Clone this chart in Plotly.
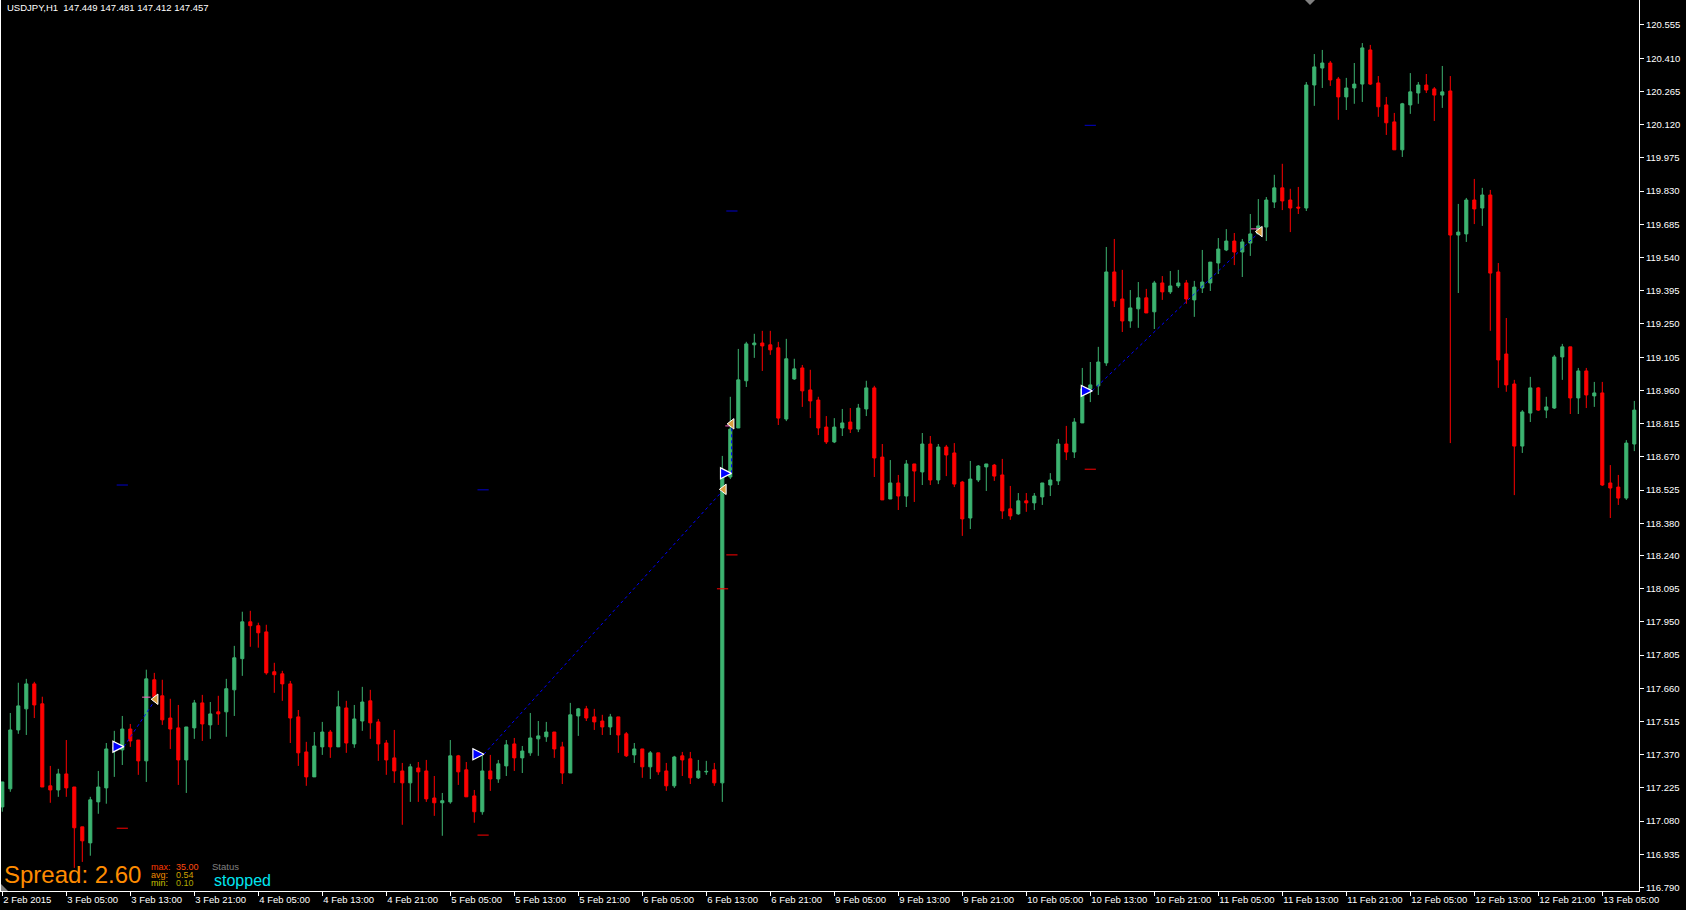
import plotly.graph_objects as go

# ---------------- data ----------------
bar_index = list(range(205))  # hourly bars, first bar = 2 Feb 2015 21:00

opens = [117.142,117.221,117.478,117.570,117.679,117.592,117.234,117.216,117.286,117.229,
117.055,116.985,117.164,117.225,117.398,117.391,117.482,117.434,117.343,117.697,
117.627,117.530,117.487,117.347,117.487,117.596,117.500,117.557,117.557,117.653,
117.789,117.950,117.933,117.906,117.732,117.723,117.679,117.535,117.382,117.273,
117.404,117.469,117.404,117.574,117.417,117.517,117.605,117.513,117.421,117.356,
117.299,117.247,117.312,117.299,117.181,117.160,117.164,117.365,117.304,117.190,
117.121,117.299,117.264,117.321,117.417,117.356,117.378,117.439,117.448,117.469,
117.404,117.290,117.539,117.570,117.535,117.517,117.491,117.535,117.461,117.369,
117.395,117.317,117.378,117.299,117.234,117.365,117.352,117.269,117.295,117.304,
117.247,118.582,118.796,119.002,119.159,119.167,119.159,119.146,118.835,119.010,
119.058,118.962,118.918,118.800,118.735,118.796,118.822,118.791,118.879,118.971,
118.669,118.486,118.556,118.499,118.639,118.604,118.726,118.569,118.713,118.687,
118.560,118.403,118.569,118.626,118.634,118.591,118.443,118.421,118.478,118.469,
118.495,118.547,118.565,118.726,118.691,118.818,118.967,118.980,119.080,119.477,
119.359,119.263,119.316,119.364,119.303,119.429,119.390,119.416,119.429,119.355,
119.407,119.429,119.516,119.573,119.612,119.564,119.603,119.643,119.673,119.782,
119.844,119.791,119.760,119.756,120.293,120.367,120.389,120.319,120.241,120.280,
120.297,120.446,120.302,120.206,120.132,120.010,120.206,120.258,120.293,120.276,
120.249,120.267,119.638,119.643,119.791,119.756,119.813,119.477,119.119,118.988,
118.717,118.861,118.971,118.874,118.883,119.106,119.150,118.927,119.045,118.936,
118.949,118.556,118.538,118.490,118.726]

highs = [117.251,117.552,117.684,117.701,117.688,117.623,117.321,117.308,117.434,117.229,
117.055,117.186,117.299,117.421,117.474,117.539,117.504,117.434,117.741,117.727,
117.697,117.614,117.587,117.491,117.609,117.631,117.600,117.627,117.701,117.845,
117.994,117.998,117.946,117.937,117.771,117.736,117.692,117.565,117.426,117.469,
117.513,117.478,117.649,117.605,117.587,117.666,117.653,117.526,117.434,117.478,
117.334,117.330,117.338,117.347,117.277,117.203,117.434,117.369,117.338,117.216,
117.365,117.369,117.347,117.434,117.443,117.408,117.552,117.517,117.513,117.469,
117.426,117.596,117.574,117.583,117.570,117.544,117.548,117.535,117.469,117.421,
117.395,117.386,117.378,117.334,117.365,117.382,117.382,117.347,117.343,117.334,
118.674,118.932,119.141,119.172,119.207,119.220,119.220,119.172,119.185,119.098,
119.071,119.050,118.932,118.848,118.839,118.879,118.883,118.901,119.002,118.980,
118.726,118.656,118.591,118.656,118.639,118.774,118.761,118.726,118.722,118.730,
118.565,118.652,118.634,118.639,118.639,118.661,118.543,118.512,118.512,118.512,
118.556,118.599,118.748,118.805,118.839,119.058,119.084,119.150,119.586,119.621,
119.486,119.398,119.433,119.403,119.438,119.459,119.481,119.486,119.442,119.438,
119.573,119.520,119.625,119.664,119.647,119.621,119.730,119.795,119.804,119.901,
119.949,119.840,119.848,120.306,120.428,120.446,120.398,120.328,120.324,120.389,
120.476,120.468,120.332,120.241,120.171,120.215,120.345,120.306,120.341,120.284,
120.376,120.332,119.774,119.800,119.883,119.844,119.835,119.516,119.276,119.006,
118.874,119.019,118.975,118.932,119.115,119.163,119.150,119.058,119.058,118.997,
118.997,118.634,118.591,118.743,118.914]

lows = [117.121,117.208,117.461,117.456,117.530,117.229,117.160,117.186,117.186,116.876,
116.902,116.929,117.112,117.156,117.273,117.325,117.404,117.282,117.251,117.605,
117.500,117.395,117.238,117.203,117.439,117.430,117.439,117.500,117.448,117.539,
117.714,117.841,117.837,117.719,117.640,117.605,117.421,117.321,117.234,117.273,
117.369,117.356,117.404,117.378,117.400,117.474,117.439,117.343,117.282,117.247,
117.064,117.164,117.164,117.164,117.103,117.016,117.156,117.238,117.186,117.073,
117.108,117.212,117.247,117.277,117.299,117.290,117.365,117.365,117.426,117.356,
117.242,117.290,117.452,117.517,117.478,117.456,117.456,117.378,117.360,117.334,
117.269,117.264,117.282,117.212,117.225,117.277,117.242,117.264,117.282,117.234,
117.164,118.573,118.796,118.975,119.102,119.045,119.115,118.809,118.826,119.006,
118.888,118.839,118.765,118.726,118.730,118.761,118.774,118.778,118.848,118.582,
118.482,118.486,118.438,118.451,118.473,118.547,118.547,118.551,118.586,118.538,
118.325,118.355,118.560,118.521,118.565,118.399,118.395,118.417,118.430,118.438,
118.460,118.499,118.547,118.656,118.665,118.818,118.909,118.940,119.067,119.324,
119.215,119.233,119.233,119.298,119.228,119.355,119.381,119.407,119.338,119.281,
119.385,119.394,119.468,119.568,119.507,119.455,119.547,119.643,119.612,119.756,
119.747,119.651,119.730,119.743,120.202,120.280,120.289,120.141,120.184,120.211,
120.219,120.293,120.154,120.075,120.010,119.979,120.167,120.211,120.258,120.136,
120.193,118.730,119.385,119.608,119.686,119.678,119.220,118.971,118.954,118.503,
118.687,118.822,118.870,118.839,118.879,119.006,118.857,118.857,118.883,118.888,
118.543,118.403,118.460,118.482,118.695]

closes = [117.251,117.478,117.583,117.679,117.587,117.229,117.216,117.286,117.225,117.051,
116.994,117.173,117.229,117.395,117.400,117.482,117.430,117.343,117.701,117.623,
117.522,117.482,117.347,117.491,117.596,117.504,117.548,117.548,117.658,117.793,
117.950,117.933,117.902,117.727,117.719,117.679,117.530,117.378,117.273,117.408,
117.469,117.404,117.579,117.421,117.526,117.600,117.509,117.417,117.347,117.299,
117.247,117.317,117.295,117.177,117.160,117.169,117.365,117.295,117.186,117.121,
117.299,117.264,117.330,117.413,117.356,117.386,117.443,117.452,117.469,117.395,
117.290,117.544,117.570,117.530,117.513,117.491,117.535,117.456,117.365,117.395,
117.317,117.378,117.295,117.234,117.360,117.347,117.269,117.299,117.297,117.247,
118.586,118.791,119.006,119.163,119.167,119.154,119.137,118.839,119.098,119.054,
118.958,118.914,118.796,118.735,118.800,118.818,118.791,118.883,118.971,118.665,
118.482,118.556,118.499,118.639,118.608,118.726,118.569,118.713,118.678,118.551,
118.399,118.573,118.630,118.639,118.586,118.434,118.412,118.478,118.469,118.499,
118.556,118.569,118.726,118.691,118.822,118.967,118.984,119.084,119.477,119.351,
119.263,119.320,119.364,119.298,119.429,119.390,119.416,119.429,119.359,119.411,
119.433,119.520,119.577,119.612,119.564,119.608,119.643,119.678,119.791,119.844,
119.787,119.756,119.756,120.293,120.372,120.389,120.315,120.241,120.280,120.297,
120.455,120.297,120.198,120.128,120.010,120.211,120.263,120.293,120.271,120.249,
120.263,119.638,119.651,119.791,119.752,119.813,119.472,119.093,118.984,118.717,
118.866,118.971,118.874,118.888,119.106,119.150,118.927,119.045,118.940,118.949,
118.547,118.534,118.490,118.730,118.874]

# time-axis labels (one every 8 bars)
x_tick_bars = list(range(0, 201, 8))
x_tick_labels = ["2 Feb 2015", "3 Feb 05:00", "3 Feb 13:00", "3 Feb 21:00", "4 Feb 05:00",
                 "4 Feb 13:00", "4 Feb 21:00", "5 Feb 05:00", "5 Feb 13:00", "5 Feb 21:00",
                 "6 Feb 05:00", "6 Feb 13:00", "6 Feb 21:00", "9 Feb 05:00", "9 Feb 13:00",
                 "9 Feb 21:00", "10 Feb 05:00", "10 Feb 13:00", "10 Feb 21:00", "11 Feb 05:00",
                 "11 Feb 13:00", "11 Feb 21:00", "12 Feb 05:00", "12 Feb 13:00", "12 Feb 21:00",
                 "13 Feb 05:00"]

# price-axis labels
y_tick_labels = ["120.555", "120.410", "120.265", "120.120", "119.975", "119.830", "119.685",
                 "119.540", "119.395", "119.250", "119.105", "118.960", "118.815", "118.670",
                 "118.525", "118.380", "118.240", "118.095", "117.950", "117.805", "117.660",
                 "117.515", "117.370", "117.225", "117.080", "116.935", "116.790"]
y_tick_vals = [float(v) for v in y_tick_labels]

# trades: open (buy arrow, tip position) and close (triangle)
trade_open_bar = [15.2, 60.2, 91.15, 136.25]
trade_open_price = [117.405, 117.372, 118.598, 118.958]
trade_close_bar = [19.17, 90.2, 91.17, 157.2]
trade_close_price = [117.612, 118.528, 118.814, 119.653]
close_mark_bar = [18.0, 90.9, 156.6]
close_mark_price = [117.621, 118.805, 119.665]
# stop-loss / take-profit levels
level_bar = [15.0, 60.1, 91.2, 136.0]
sl_price = [117.049, 117.019, 118.242, 118.616]
tp_price = [118.547, 118.526, 119.743, 120.117]
extra_sl_bar = [90.03]
extra_sl_price = [118.094]

header_text = "USDJPY,H1\u00a0 147.449 147.481 147.412 147.457"

# ---------------- layout geometry ----------------
FIG_W, FIG_H = 1686, 910
M_L, M_R, M_T, M_B = 1, 47, 0, 19
PW = FIG_W - M_L - M_R
PH = FIG_H - M_T - M_B


def px_x(px):
    return (px - M_L) / PW


def px_y(py):
    return 1 - (py - M_T) / PH


GREEN = "#3CB371"
RED = "#FF0000"
FONT = "Liberation Sans"

fig = go.Figure()

fig.add_trace(go.Candlestick(
    x=bar_index, open=opens, high=highs, low=lows, close=closes,
    increasing=dict(line=dict(color=GREEN, width=1), fillcolor=GREEN),
    decreasing=dict(line=dict(color=RED, width=1), fillcolor=RED),
    whiskerwidth=0, showlegend=False, hoverinfo="skip"))

# trade connection lines (blue dotted)
lx, ly = [], []
for ox, op, cx, cp in zip(trade_open_bar, trade_open_price, trade_close_bar, trade_close_price):
    lx += [ox, cx, None]
    ly += [op, cp, None]
fig.add_trace(go.Scatter(x=lx, y=ly, mode="lines",
                         line=dict(color="#0000FF", width=1, dash="dot"),
                         showlegend=False, hoverinfo="skip"))

# SL / TP dashes
fig.add_trace(go.Scatter(x=level_bar + extra_sl_bar, y=sl_price + extra_sl_price, mode="markers",
                         marker=dict(symbol="line-ew", size=8, line=dict(color="#FF0000", width=1)),
                         showlegend=False, hoverinfo="skip"))
fig.add_trace(go.Scatter(x=level_bar, y=tp_price, mode="markers",
                         marker=dict(symbol="line-ew", size=8, line=dict(color="#0000CC", width=1)),
                         showlegend=False, hoverinfo="skip"))
fig.add_trace(go.Scatter(x=close_mark_bar, y=close_mark_price, mode="markers",
                         marker=dict(symbol="line-ew", size=6, line=dict(color="#FF60C0", width=1)),
                         showlegend=False, hoverinfo="skip"))

# open arrows and close triangles
fig.add_trace(go.Scatter(x=trade_open_bar, y=trade_open_price, mode="markers",
                         marker=dict(symbol="arrow-right", size=11, color="#0000FF",
                                     line=dict(color="white", width=1.2)),
                         showlegend=False, hoverinfo="skip"))
fig.add_trace(go.Scatter(x=trade_close_bar, y=trade_close_price, mode="markers",
                         marker=dict(symbol="triangle-left", size=9, color="#D9A040",
                                     line=dict(color="white", width=1)),
                         showlegend=False, hoverinfo="skip"))

annotations = [
    dict(text=header_text, x=px_x(6), y=px_y(7.5), xanchor="left", yanchor="middle",
         font=dict(color="white", size=9.5, family=FONT)),
    dict(text="Spread: 2.60", x=px_x(3), y=px_y(874.5), xanchor="left", yanchor="middle",
         font=dict(color="#FF8C00", size=24, family=FONT)),
    dict(text="max:", x=px_x(150), y=px_y(866.5), xanchor="left", yanchor="middle",
         font=dict(color="#FF3A00", size=9, family=FONT)),
    dict(text="35.00", x=px_x(175), y=px_y(866.5), xanchor="left", yanchor="middle",
         font=dict(color="#FF4A10", size=9, family=FONT)),
    dict(text="avg:", x=px_x(150), y=px_y(874.5), xanchor="left", yanchor="middle",
         font=dict(color="#F08C00", size=9, family=FONT)),
    dict(text="0.54", x=px_x(175), y=px_y(874.5), xanchor="left", yanchor="middle",
         font=dict(color="#D0A000", size=9, family=FONT)),
    dict(text="min:", x=px_x(150), y=px_y(882.5), xanchor="left", yanchor="middle",
         font=dict(color="#C8C000", size=9, family=FONT)),
    dict(text="0.10", x=px_x(175), y=px_y(882.5), xanchor="left", yanchor="middle",
         font=dict(color="#B0A800", size=9, family=FONT)),
    dict(text="Status", x=px_x(211), y=px_y(866.5), xanchor="left", yanchor="middle",
         font=dict(color="#808080", size=9.5, family=FONT)),
    dict(text="stopped", x=px_x(213), y=px_y(880.5), xanchor="left", yanchor="middle",
         font=dict(color="#00E5F0", size=16, family=FONT)),
]
for a in annotations:
    a.update(xref="paper", yref="paper", showarrow=False, borderpad=0)

shapes = [
    # chart-shift marker at top
    dict(type="path", xref="paper", yref="paper", fillcolor="#808080", line=dict(width=0),
         path=f"M {px_x(1305)} {px_y(0)} L {px_x(1315)} {px_y(0)} L {px_x(1310)} {px_y(5)} Z"),
    # corner marker bottom-left
    dict(type="path", xref="paper", yref="paper", fillcolor="#808080", line=dict(width=0),
         path=f"M {px_x(1)} {px_y(884)} L {px_x(1)} {px_y(891)} L {px_x(8)} {px_y(891)} Z"),
]

fig.update_layout(
    width=FIG_W, height=FIG_H,
    margin=dict(l=M_L, r=M_R, t=M_T, b=M_B, pad=0, autoexpand=False),
    paper_bgcolor="black", plot_bgcolor="black",
    boxgap=0.45,
    showlegend=False,
    annotations=annotations,
    shapes=shapes,
    font=dict(family=FONT, color="white"),
    xaxis=dict(range=[(M_L - 2.3) / 8, (FIG_W - M_R - 2.3) / 8],
               tickvals=x_tick_bars, ticktext=x_tick_labels, tickangle=0,
               ticks="outside", ticklen=4, tickcolor="white", tickwidth=1,
               ticklabelposition="outside right",
               tickfont=dict(color="white", size=9.5, family=FONT),
               showgrid=False, zeroline=False, showline=True, linecolor="white", linewidth=1,
               rangeslider=dict(visible=False), fixedrange=True, automargin=False),
    yaxis=dict(side="right", range=[116.775, 120.664],
               tickvals=y_tick_vals, ticktext=y_tick_labels,
               ticks="outside", ticklen=4, tickcolor="white", tickwidth=1,
               tickfont=dict(color="white", size=9.5, family=FONT),
               showgrid=False, zeroline=False, showline=True, mirror=True,
               linecolor="white", linewidth=1, fixedrange=True, automargin=False),
)

fig.write_html("out.html", config={"displayModeBar": False},
               post_script="document.body.style.margin='0';document.body.style.background='black';")
